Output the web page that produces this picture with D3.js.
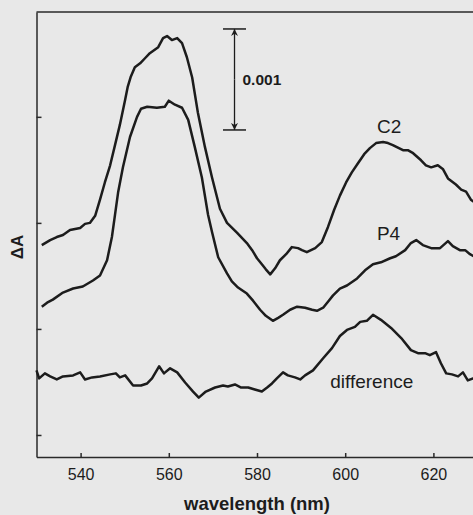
<!DOCTYPE html>
<html>
<head>
<meta charset="utf-8">
<script src="https://cdnjs.cloudflare.com/ajax/libs/d3/7.8.5/d3.min.js"></script>
<style>
body {margin: 0; background: #e8e8e8;}
.chart text {font-family: "Liberation Sans", Arial, sans-serif; fill: #1c1c1c;}
.axis path, .axis line {stroke: #2a2a2a; stroke-width: 1.5;}
.trace {fill: none; stroke: #1c1c1c; stroke-width: 2.5; stroke-linejoin: round;}
</style>
</head>
<body>
<div id="spectra"></div>
<script>
// Light-induced difference spectra

//data (wavelength in nm, ΔA in units of 0.001)
var c2Wavelength = [531.2,533.1,534.6,536.0,537.6,539.9,541.0,542.1,543.3,544.4,545.5,546.7,547.8,548.9,550.1,550.7,551.4,552.3,553.5,554.6,
	555.7,557.6,558.7,559.6,560.7,561.9,563.0,564.1,565.3,566.6,568.2,569.8,571.6,573.2,575.5,577.7,578.9,580.0,581.1,582.0,
	583.0,584.1,585.2,586.6,587.9,589.3,590.2,591.3,593.2,594.7,596.1,597.5,598.8,600.2,601.5,602.9,604.3,605.6,607.0,608.6,
	609.7,610.8,613.1,614.2,615.4,617.2,618.3,619.5,621.0,622.2,623.3,624.2,625.1,626.3,627.4,628.5,630.0];
var c2Values = [1.88,1.93,1.96,1.98,2.03,2.05,2.09,2.10,2.17,2.33,2.50,2.67,2.87,3.07,3.32,3.45,3.55,3.64,3.68,3.73,
	3.78,3.84,3.93,3.95,3.91,3.93,3.88,3.74,3.54,3.19,2.85,2.55,2.24,2.10,2.00,1.90,1.83,1.75,1.69,1.64,
	1.59,1.65,1.73,1.79,1.86,1.85,1.83,1.81,1.85,1.91,2.06,2.23,2.37,2.50,2.60,2.69,2.78,2.84,2.89,2.90,
	2.89,2.87,2.82,2.82,2.79,2.72,2.67,2.65,2.67,2.63,2.54,2.51,2.48,2.43,2.41,2.33,2.28];

var p4Wavelength = [531.2,532.4,533.7,536.0,538.3,540.5,542.8,544.4,546.0,547.1,547.8,548.5,549.6,551.2,552.8,553.7,555.1,557.3,559.1,560.0,
	561.4,563.0,564.4,565.9,567.5,568.9,569.8,571.2,573.2,574.3,575.7,577.7,579.1,580.7,582.0,583.6,584.8,585.9,587.5,589.1,
	590.9,592.5,593.6,595.0,596.1,597.2,598.8,600.4,602.7,604.5,606.3,608.1,610.2,611.5,613.6,614.9,616.1,617.6,619.5,621.5,
	623.3,624.4,626.0,627.2,628.3,630.0];
var p4Values = [1.27,1.31,1.34,1.41,1.45,1.47,1.53,1.58,1.73,1.96,2.18,2.40,2.65,2.95,3.15,3.23,3.25,3.24,3.25,3.31,
	3.27,3.24,3.12,2.85,2.55,2.18,2.01,1.76,1.60,1.52,1.46,1.40,1.33,1.24,1.18,1.13,1.16,1.19,1.24,1.27,
	1.26,1.24,1.23,1.26,1.32,1.38,1.45,1.48,1.55,1.63,1.69,1.71,1.75,1.77,1.83,1.90,1.93,1.88,1.85,1.85,
	1.92,1.87,1.83,1.83,1.79,1.75];

var diffWavelength = [530.0,530.6,531.9,533.1,534.6,536.0,538.3,539.9,541.0,542.6,544.4,546.7,548.0,548.9,550.1,551.9,553.7,555.1,556.2,557.8,
	558.9,560.3,561.9,563.7,565.5,566.8,568.4,570.5,572.3,573.4,575.0,576.4,578.0,579.5,581.1,582.3,583.4,584.5,585.9,587.0,
	588.6,589.8,590.9,592.7,595.0,597.0,598.8,600.4,602.2,603.4,604.9,606.3,608.1,610.4,612.7,614.9,616.5,618.1,619.2,620.6,
	621.7,622.9,624.2,625.6,626.7,627.8,629.0,630.0];
var diffValues = [0.64,0.56,0.61,0.58,0.55,0.58,0.59,0.62,0.55,0.57,0.58,0.60,0.61,0.57,0.59,0.49,0.49,0.51,0.56,0.68,
	0.61,0.66,0.62,0.52,0.43,0.37,0.43,0.47,0.49,0.48,0.50,0.47,0.47,0.45,0.43,0.47,0.51,0.56,0.62,0.59,
	0.57,0.55,0.59,0.64,0.76,0.86,0.98,1.04,1.07,1.12,1.13,1.19,1.14,1.06,0.96,0.84,0.81,0.81,0.79,0.82,
	0.71,0.61,0.60,0.58,0.62,0.54,0.56,0.54];

var xTicks = [540, 560, 580, 600, 620];
var yTicks = [0, 1.05, 2.1, 3.15];

var width = 473;
var height = 515;

//scales
var x = d3.scaleLinear()
		.domain([530, 630])
		.range([36.5, 477.5]);

var y = d3.scaleLinear()
		.domain([-0.218, 4.188])
		.range([457, 12]);

var chart = d3.select("#spectra")
			.append("svg")
			.attr("width", width)
			.attr("height", height)
			.attr("class", "chart");

chart.append("rect")
	.attr("width", width)
	.attr("height", height)
	.attr("fill", "#e8e8e8");

chart.append("defs").append("marker")
	.attr("id", "arrow")
	.attr("viewBox", "0 0 10 10")
	.attr("refX", 10)
	.attr("refY", 5)
	.attr("markerWidth", 7)
	.attr("markerHeight", 9)
	.attr("markerUnits", "userSpaceOnUse")
	.attr("orient", "auto-start-reverse")
	.append("path")
	.attr("d", "M0,0L10,5L0,10L3,5Z")
	.attr("fill", "#1c1c1c");

// axes, ticks point inward
chart.append("g")
	.attr("class", "axis")
	.attr("transform", "translate(0," + y.range()[0] + ")")
	.call(d3.axisBottom(x).tickValues(xTicks).tickSizeInner(-4).tickSizeOuter(0).tickPadding(12))
	.selectAll("text")
	.attr("font-size", 16);

chart.append("g")
	.attr("class", "axis")
	.attr("transform", "translate(" + x.range()[0] + ",0)")
	.call(d3.axisLeft(y).tickValues(yTicks).tickSizeInner(-5).tickSizeOuter(0).tickFormat(""));

// top frame line
chart.append("line")
	.attr("x1", x.range()[0])
	.attr("x2", width)
	.attr("y1", y.range()[1])
	.attr("y2", y.range()[1])
	.attr("stroke", "#2a2a2a")
	.attr("stroke-width", 1.5);

chart.selectAll(".axis text").attr("font-family", "Liberation Sans, Arial, sans-serif").attr("fill", "#1c1c1c");

// traces
var series = [
	{"id": "C2", "wl": c2Wavelength, "v": c2Values},
	{"id": "P4", "wl": p4Wavelength, "v": p4Values},
	{"id": "difference", "wl": diffWavelength, "v": diffValues}
];

var line = d3.line()
		.x(function(d) {return x(d[0]);})
		.y(function(d) {return y(d[1]);});

chart.append("g").selectAll(".trace")
	.data(series)
	.enter().append("path")
	.attr("class", "trace")
	.attr("d", function(s) {return line(d3.zip(s.wl, s.v));});

// trace labels
var labelPos = [[607.2, 2.99], [607.2, 1.93], [596.6, 0.47]];

chart.append("g").selectAll(".traceLabel")
	.data(series)
	.enter().append("text")
	.text(function(d) {return d.id;})
	.attr("x", function(d, i) {return x(labelPos[i][0]);})
	.attr("y", function(d, i) {return y(labelPos[i][1]);})
	.attr("font-size", 19);

// scale bar
var barX = x(574.9);
var barLow = 3.02;
chart.append("line")
	.attr("x1", barX).attr("x2", barX)
	.attr("y1", y(barLow + 0.5)).attr("y2", y(barLow + 1))
	.attr("stroke", "#1c1c1c").attr("stroke-width", 1.3)
	.attr("marker-end", "url(#arrow)");
chart.append("line")
	.attr("x1", barX).attr("x2", barX)
	.attr("y1", y(barLow + 0.5)).attr("y2", y(barLow))
	.attr("stroke", "#1c1c1c").attr("stroke-width", 1.3)
	.attr("marker-end", "url(#arrow)");

chart.selectAll(".cap")
	.data([barLow, barLow + 1])
	.enter().append("line")
	.attr("x1", barX - 11.5).attr("x2", barX + 11.5)
	.attr("y1", function(d) {return y(d);})
	.attr("y2", function(d) {return y(d);})
	.attr("stroke", "#1c1c1c").attr("stroke-width", 1.5);

chart.append("text")
	.text("0.001")
	.attr("x", barX + 8)
	.attr("y", y(barLow + 0.5) + 6)
	.attr("font-size", 15.5)
	.attr("font-weight", "bold");

// axis titles
chart.append("text")
	.text("wavelength (nm)")
	.attr("x", (x.range()[0] + x.range()[1]) / 2)
	.attr("y", 510)
	.attr("text-anchor", "middle")
	.attr("font-size", 18.5)
	.attr("font-weight", "bold");

chart.append("text")
	.text("ΔA")
	.attr("transform", "translate(23,247) rotate(-90)")
	.attr("text-anchor", "middle")
	.attr("font-size", 17)
	.attr("font-weight", "bold");
</script>
</body>
</html>
